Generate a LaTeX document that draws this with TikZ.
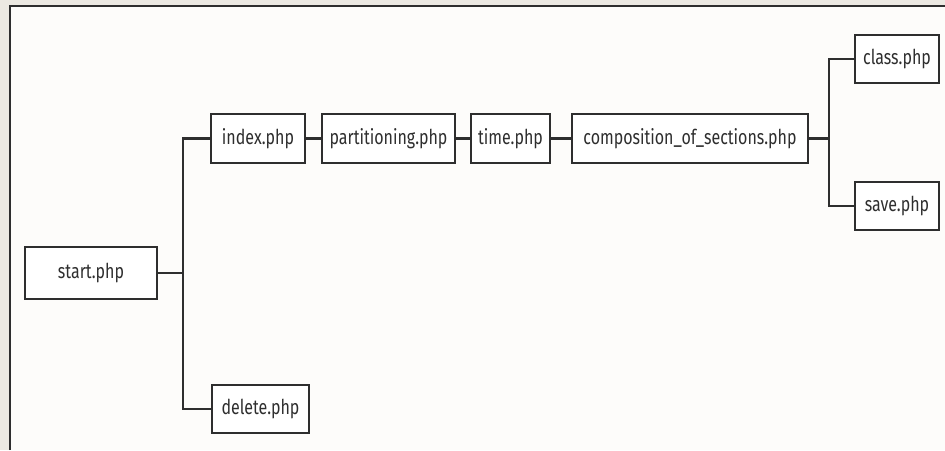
\documentclass[tikz,border=0pt]{standalone}
\usepackage{fontspec}
\setmainfont[FakeStretch=0.78]{Fira Sans}
\definecolor{outerbg}{HTML}{ECE9E2}
\definecolor{innerbg}{HTML}{FDFCFA}
\definecolor{ink}{HTML}{2E2E2E}
\tikzset{
  file/.style={draw=ink, line width=2.2pt, fill=white, rectangle, inner sep=0pt,
    font=\fontsize{20.5}{20.5}\selectfont, text=ink},
  link/.style={draw=ink, line width=2.2pt},
}
\begin{document}
\begin{tikzpicture}[x=1pt,y=-1pt]
\useasboundingbox (0,0) rectangle (945,450);
\fill[outerbg] (0,0) rectangle (945,450);
\fill[innerbg] (10,6) rectangle (945,450);
\draw[ink, line width=2.4pt] (10,450) -- (10,6) -- (945,6);

\node[file, minimum width=132, minimum height=52] (start) at (91,273) {start.php};
\node[file, minimum width=94, minimum height=49] (index) at (258,138.5) {index.php};
\node[file, minimum width=133, minimum height=49] (part) at (388.5,138.5) {partitioning.php};
\node[file, minimum width=79, minimum height=49] (time) at (510.5,138.5) {time.php};
\node[file, minimum width=236, minimum height=49] (comp) at (690,138.5) {composition\_of\_sections.php};
\node[file, minimum width=84, minimum height=48] (class) at (897,59) {class.php};
\node[file, minimum width=84, minimum height=48] (save) at (897,206) {save.php};
\node[file, minimum width=97, minimum height=48] (delete) at (260.5,409) {delete.php};

\coordinate (j1) at (183,273);
\coordinate (j2) at (829,138.5);

\draw[link] (start.east) -- (j1);
\draw[link] (index.west) -| (j1) |- (delete.west);
\draw[link] (index) -- (part);
\draw[link] (part) -- (time);
\draw[link] (time) -- (comp);
\draw[link] (comp.east) -- (j2);
\draw[link] (class.west) -| (j2) |- (save.west);
\end{tikzpicture}
\end{document}
